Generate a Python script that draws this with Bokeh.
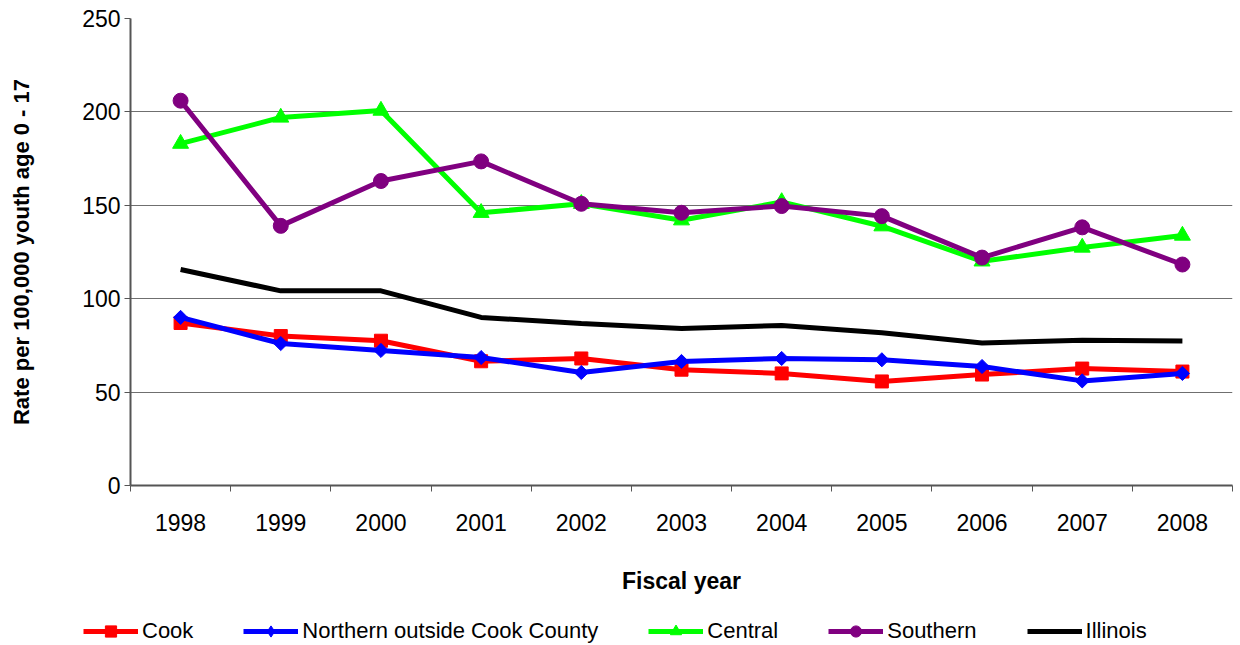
import math
from bokeh.plotting import figure
from bokeh.models import Range1d, FixedTicker, Legend, LegendItem
from bokeh.embed import file_html
from bokeh.resources import INLINE

years = [1998, 1999, 2000, 2001, 2002, 2003, 2004, 2005, 2006, 2007, 2008]
cook = [87.0, 80.0, 77.5, 66.5, 68.0, 62.0, 60.0, 55.7, 59.4, 62.6, 61.0]
northern = [90.0, 76.0, 72.3, 68.5, 60.5, 66.4, 68.0, 67.3, 63.7, 56.0, 60.0]
central = [183.0, 197.0, 200.7, 146.0, 150.8, 142.0, 151.8, 138.8, 120.0, 127.4, 133.8]
southern = [206.0, 139.0, 163.0, 173.5, 150.8, 146.0, 149.6, 144.2, 122.0, 138.2, 118.3]
illinois = [115.6, 104.2, 104.2, 90.0, 86.7, 84.0, 85.7, 81.8, 76.3, 77.8, 77.4]
y_ticks = [0, 50, 100, 150, 200, 250]
series_names = ["Cook", "Northern outside Cook County", "Central", "Southern", "Illinois"]

FONT = "Liberation Sans"
LW = 5


def draw_series(fig, for_legend=False):
    l1 = fig.line(years, cook, line_color="#FF0000", line_width=LW)
    m1 = fig.scatter(years, cook, marker="square", size=13, fill_color="#FF0000", line_color="#FF0000")
    l2 = fig.line(years, northern, line_color="#0000FF", line_width=LW)
    if for_legend:
        m2 = fig.scatter(years, northern, marker="diamond", size=14,
                         fill_color="#0000FF", line_color="#0000FF")
    else:
        m2 = fig.scatter(years, northern, marker="square", size=10, angle=math.pi / 4,
                         fill_color="#0000FF", line_color="#0000FF")
    l3 = fig.line(years, central, line_color="#00FF00", line_width=LW)
    m3 = fig.scatter(years, central, marker="triangle", size=16, fill_color="#00FF00", line_color="#00FF00")
    l4 = fig.line(years, southern, line_color="#800080", line_width=LW)
    m4 = fig.scatter(years, southern, marker="circle", size=15, fill_color="#800080", line_color="#800080")
    l5 = fig.line(years, illinois, line_color="black", line_width=LW)
    return [[l1, m1], [l2, m2], [l3, m3], [l4, m4], [l5]]


p = figure(width=1240, height=612, output_backend="svg", toolbar_location=None,
           x_range=Range1d(1997.5, 2008.5), y_range=Range1d(0, 250),
           min_border_left=130, min_border_right=8, min_border_top=18, min_border_bottom=127)
p.outline_line_color = None
p.background_fill_color = "white"
p.border_fill_color = "white"

xa = p.xaxis[0]
xa.ticker = FixedTicker(ticks=years, minor_ticks=[y - 0.5 for y in years] + [years[-1] + 0.5])
xa.major_label_overrides = {y: str(y) for y in years}
xa.major_tick_out = 0
xa.major_tick_in = 0
xa.minor_tick_out = 6
xa.minor_tick_in = 0
xa.minor_tick_line_color = "#555555"
xa.axis_line_color = "#555555"
xa.axis_line_width = 2
xa.major_label_text_font = FONT
xa.major_label_text_font_size = "23px"
xa.major_label_text_color = "black"
xa.major_label_standoff = 22
xa.axis_label = "Fiscal year"
xa.axis_label_text_font = FONT
xa.axis_label_text_font_style = "bold"
xa.axis_label_text_font_size = "23px"
xa.axis_label_text_color = "black"
xa.axis_label_standoff = 34

ya = p.yaxis[0]
ya.ticker = FixedTicker(ticks=y_ticks, minor_ticks=[])
ya.major_tick_out = 6
ya.major_tick_in = 0
ya.major_tick_line_color = "#555555"
ya.axis_line_color = "#555555"
ya.axis_line_width = 2
ya.major_label_text_font = FONT
ya.major_label_text_font_size = "23px"
ya.major_label_text_color = "black"
ya.major_label_standoff = 4
ya.axis_label = "Rate per 100,000 youth age 0 - 17"
ya.axis_label_text_font = FONT
ya.axis_label_text_font_style = "bold"
ya.axis_label_text_font_size = "22px"
ya.axis_label_text_color = "black"
ya.axis_label_standoff = 45

p.xgrid.visible = False
p.ygrid.ticker = FixedTicker(ticks=[50, 100, 150, 200])
p.ygrid.grid_line_color = "#6f6f6f"
p.ygrid.grid_line_width = 1

draw_series(p)

# Legend strip below the chart (its series lie outside its own ranges, so only the legend shows)
lf = figure(width=1240, height=33, output_backend="svg", toolbar_location=None,
            x_range=Range1d(0, 1), y_range=Range1d(0, 1),
            min_border=0, min_border_left=0, min_border_right=0,
            min_border_top=0, min_border_bottom=0)
lf.outline_line_color = None
lf.axis.visible = False
lf.grid.visible = False
lf_renderers = draw_series(lf, for_legend=True)

items = [LegendItem(label=name, renderers=rs) for name, rs in zip(series_names, lf_renderers)]
legend = Legend(items=items, orientation="horizontal", location=(83, 0),
                label_text_font=FONT, label_text_font_size="22px", label_text_color="black",
                glyph_width=55, glyph_height=28, spacing=50, label_standoff=4,
                padding=0, margin=0, border_line_color=None, background_fill_alpha=0)
lf.add_layout(legend, "center")

open("out.html", "w").write(file_html([p, lf], INLINE))
